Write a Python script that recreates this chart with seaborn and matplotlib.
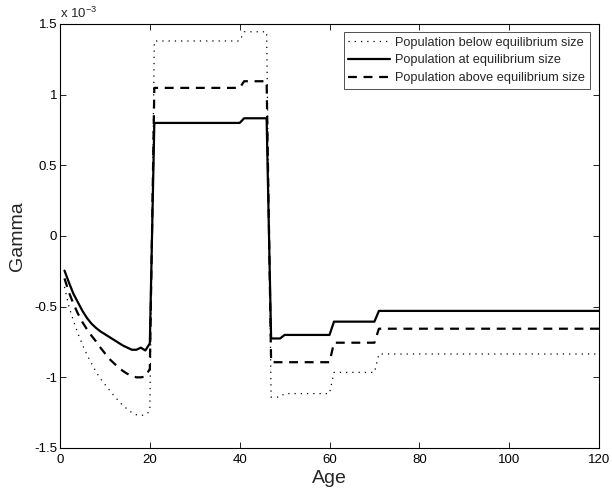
import numpy as np
import pandas as pd
import matplotlib
matplotlib.use("Agg")
import matplotlib.pyplot as plt
import seaborn as sns

# ---- data (Gamma in units of 1e-3) ----
ages = [1, 2, 3, 4, 5, 6, 7, 8, 9, 10, 11, 12, 13, 14, 15, 16, 17, 18, 19, 20,
        21, 40, 41, 46, 47, 49, 50, 60, 61, 70, 71, 120]

gamma_below = [-0.36, -0.50, -0.60, -0.69, -0.77, -0.84, -0.90, -0.96, -1.01, -1.05,
               -1.09, -1.13, -1.165, -1.20, -1.225, -1.25, -1.265, -1.27, -1.265, -1.24,
               1.38, 1.38, 1.445, 1.445, -1.14, -1.14, -1.115, -1.115, -0.965, -0.965,
               -0.835, -0.835]

gamma_at = [-0.245, -0.33, -0.41, -0.47, -0.53, -0.58, -0.62, -0.65, -0.675, -0.695,
            -0.715, -0.735, -0.755, -0.775, -0.79, -0.805, -0.805, -0.79, -0.81, -0.76,
            0.80, 0.80, 0.833, 0.833, -0.725, -0.725, -0.70, -0.70, -0.606, -0.606,
            -0.530, -0.530]

gamma_above = [-0.30, -0.40, -0.48, -0.55, -0.61, -0.66, -0.705, -0.745, -0.79, -0.83,
               -0.87, -0.90, -0.93, -0.955, -0.975, -0.99, -1.0, -1.0, -0.995, -0.94,
               1.048, 1.048, 1.095, 1.095, -0.893, -0.893, -0.893, -0.893, -0.755, -0.755,
               -0.656, -0.656]

labels = ["Population below equilibrium size",
          "Population at equilibrium size",
          "Population above equilibrium size"]

x_ticks = [0, 20, 40, 60, 80, 100, 120]
y_ticks = [-1.5, -1, -0.5, 0, 0.5, 1, 1.5]
y_ticklabels = ["-1.5", "-1", "-0.5", "0", "0.5", "1", "1.5"]

# ---- style ----
sns.set_theme(style="ticks")
plt.rcParams["font.family"] = ["Liberation Sans", "DejaVu Sans"]
plt.rcParams["axes.unicode_minus"] = False
plt.rcParams["mathtext.fontset"] = "custom"
plt.rcParams["mathtext.rm"] = "Liberation Sans"
plt.rcParams["mathtext.it"] = "Liberation Sans"
plt.rcParams["mathtext.bf"] = "Liberation Sans"

fig = plt.figure(figsize=(6.12, 4.97), dpi=100)
ax = fig.add_axes([60 / 612, 1 - 448 / 497, 539 / 612, 424 / 497])

styles = [
    dict(linestyle=(0, (1, 4)), linewidth=0.9),
    dict(linestyle="-", linewidth=1.6),
    dict(linestyle=(0, (4, 3)), linewidth=1.6),
]
series = [gamma_below, gamma_at, gamma_above]

for vals, lab, st in zip(series, labels, styles):
    df = pd.DataFrame({"Age": ages, "Gamma": vals})
    sns.lineplot(data=df, x="Age", y="Gamma", ax=ax, color="black",
                 label=lab, sort=False, **st)

ax.set_xlim(0, 120)
ax.set_ylim(-1.5, 1.5)
ax.set_xticks(x_ticks)
ax.set_xticklabels([str(t) for t in x_ticks])
ax.set_yticks(y_ticks)
ax.set_yticklabels(y_ticklabels)
ax.tick_params(direction="in", length=4, width=0.6, labelsize=9.5,
               top=True, right=True, colors="black")
ax.tick_params(axis="x", pad=4)
ax.tick_params(axis="y", pad=2)
for s in ax.spines.values():
    s.set_visible(True)
    s.set_linewidth(0.8)
    s.set_color("black")

ax.set_xlabel("Age", fontsize=14, labelpad=3)
ax.set_ylabel("Gamma", fontsize=14, labelpad=6)

ax.text(0.0, 1.006, r"x 10$^{-3}$", transform=ax.transAxes,
        ha="left", va="bottom", fontsize=9.5)

leg = ax.legend(loc="upper right", bbox_to_anchor=(0.983, 0.981),
                borderaxespad=0, fontsize=9.2, frameon=True, fancybox=False,
                framealpha=1, edgecolor="#333333", handlelength=3.3,
                handletextpad=0.4, labelspacing=0.45, borderpad=0.35)
leg.get_frame().set_linewidth(0.6)

fig.savefig("out.png", dpi=100)
